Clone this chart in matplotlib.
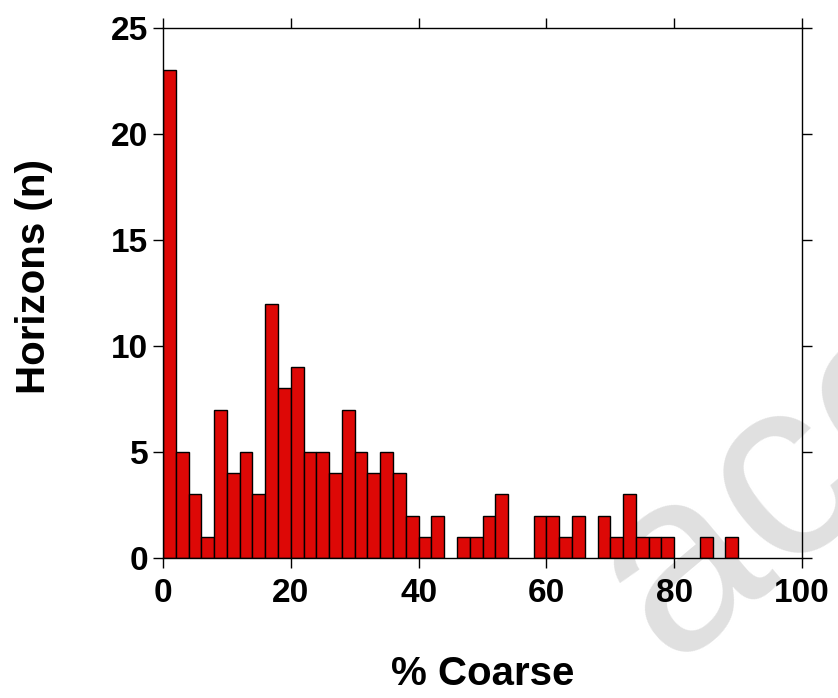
import numpy as np
import matplotlib
matplotlib.use("Agg")
import matplotlib.pyplot as plt

# Histogram of coarse fraction, bins of 2 % from 0 to 100
bin_edges = np.arange(0, 102, 2)
counts = [23, 5, 3, 1, 7, 4, 5, 3, 12, 8,
          9, 5, 5, 4, 7, 5, 4, 5, 4, 2,
          1, 2, 0, 1, 1, 2, 3, 0, 0, 2,
          2, 1, 2, 0, 2, 1, 3, 1, 1, 1,
          0, 0, 1, 0, 1, 0, 0, 0, 0, 0]
x_ticks = [0, 20, 40, 60, 80, 100]
y_ticks = [0, 5, 10, 15, 20, 25]

plt.rcParams["font.family"] = ["Liberation Sans", "DejaVu Sans"]
plt.rcParams["font.weight"] = "bold"

fig = plt.figure(figsize=(8.38, 6.98), dpi=100)
ax = fig.add_axes([163 / 838, 1 - 558 / 698, 639 / 838, 530 / 698])
ax.set_facecolor("none")

# Faint watermark behind the plot
fig.text(0.800, 0.047, "accepted", fontsize=185, color="#e0e0e0",
         fontweight="normal", rotation=40, ha="left", va="baseline",
         zorder=-1, rotation_mode="anchor")

# Bars (skip empty bins so no stray outlines)
left = bin_edges[:-1]
heights = np.array(counts)
mask = heights > 0
ax.bar(left[mask], heights[mask], width=2, align="edge",
       color="#DD0806", edgecolor="black", linewidth=1.0, zorder=2)

ax.set_xlim(0, 100)
ax.set_ylim(0, 25)
ax.set_xticks(x_ticks)
ax.set_yticks(y_ticks)

for side in ["top", "bottom", "left", "right"]:
    ax.spines[side].set_linewidth(1.0)

ax.tick_params(axis="both", direction="out", length=7.5, width=1.0,
               labelsize=24, top=True, right=True, pad=3)
ax.tick_params(axis="x", pad=7)

ax.set_xlabel("% Coarse", fontsize=29, fontweight="bold", labelpad=33)
ax.set_ylabel("Horizons (n)", fontsize=29, fontweight="bold", labelpad=42)
ax.yaxis.label.set_y((558 - 277) / 530)

fig.savefig("out.png", dpi=100)
